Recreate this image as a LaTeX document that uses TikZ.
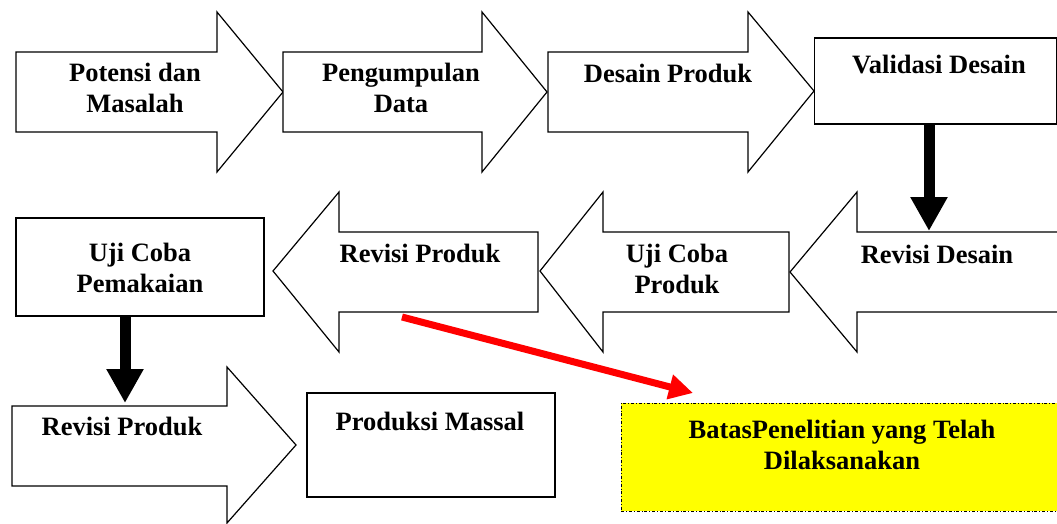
\documentclass[tikz,border=0pt]{standalone}
\usepackage{fontspec}
\setmainfont{Liberation Serif}
\usetikzlibrary{arrows.meta}
\definecolor{limityellow}{RGB}{255,255,0}
\begin{document}
\begin{tikzpicture}[x=1pt,y=-1pt,
  blockarrow/.style={draw=black,line width=1.2pt,line join=miter,fill=white},
  boxnode/.style={draw=black,line width=1.2pt,fill=white,rectangle,inner sep=0pt},
  lbl/.style={font=\bfseries\fontsize{26.5}{31}\selectfont,align=center,anchor=base,inner sep=0pt},
  downarrow/.style={line width=11pt,-{Triangle[width=35pt,length=34pt]}},
  redarrow/.style={draw=red,line width=7pt,-{Triangle[width=24pt,length=24pt]}},
  limitbox/.style={draw=black,line width=0.8pt,dash dot,fill=limityellow,rectangle,inner sep=0pt}]
\useasboundingbox (0,0) rectangle (1057,524);
% top row block arrows
\draw[blockarrow] (16,52) -- (217,52) -- (217,12) -- (283,92) -- (217,172) -- (217,132) -- (16,132) -- cycle;
\draw[blockarrow] (283,52) -- (482,52) -- (482,12) -- (547,92) -- (482,172) -- (482,132) -- (283,132) -- cycle;
\draw[blockarrow] (548,52) -- (748,52) -- (748,12) -- (814,91) -- (748,172) -- (748,132) -- (548,132) -- cycle;
\node[boxnode,minimum width=242pt,minimum height=86pt] (val) at (935.5,81) {};
% middle row block arrows (pointing left)
\draw[blockarrow] (1057,232) -- (857,232) -- (857,192) -- (790,272) -- (857,352) -- (857,312) -- (1057,312);
\draw[blockarrow] (789,232) -- (603,232) -- (603,192) -- (540,271) -- (603,352) -- (603,312) -- (789,312) -- cycle;
\draw[blockarrow] (538,232) -- (339,232) -- (339,192) -- (273,271) -- (339,352) -- (339,312) -- (538,312) -- cycle;
\node[boxnode,minimum width=248pt,minimum height=98pt] (uji) at (140,267) {};
% bottom row
\draw[blockarrow] (12,406) -- (227,406) -- (227,367) -- (296,445) -- (227,523) -- (227,486) -- (12,486) -- cycle;
\node[boxnode,minimum width=248pt,minimum height=104pt] (massal) at (431,445) {};
\node[limitbox,minimum width=440pt,minimum height=108pt] (batas) at (841,457) {};
% coordinates for connectors
\coordinate (revdesTop) at (929,231);
\coordinate (revprodTop) at (125,403);
\coordinate (redStart) at (402,317);
\coordinate (redEnd) at (693,393);
% labels (anchor=base is the baseline of the last line)
\node[lbl] (t1) at (135,113) {Potensi dan\\Masalah};
\node[lbl] (t2) at (401,113) {Pengumpulan\\Data};
\node[lbl] (t3) at (668,83) {Desain Produk};
\node[lbl] (t4) at (939,74) {Validasi Desain};
\node[lbl] (t5) at (937,263) {Revisi Desain};
\node[lbl] (t6) at (677,293) {Uji Coba\\Produk};
\node[lbl] (t7) at (420,262) {Revisi Produk};
\node[lbl] (t8) at (140,292) {Uji Coba\\Pemakaian};
\node[lbl] (t9) at (122,435) {Revisi Produk};
\node[lbl] (t10) at (430,430) {Produksi Massal};
\node[lbl] (t11) at (842,469) {BatasPenelitian yang Telah\\Dilaksanakan};
% connectors
\draw[downarrow] (val.south -| revdesTop) -- (revdesTop);
\draw[downarrow] (uji.south -| revprodTop) -- (revprodTop);
\draw[redarrow] (redStart) -- (redEnd);
\end{tikzpicture}
\end{document}
